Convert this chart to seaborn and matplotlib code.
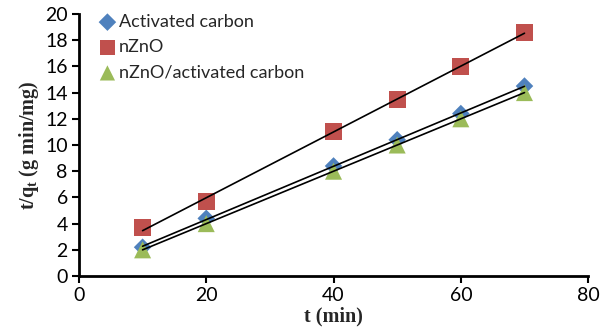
import numpy as np
import pandas as pd
import matplotlib
matplotlib.use("Agg")
import matplotlib.pyplot as plt
import seaborn as sns

# Pseudo-second-order kinetic data: t/q_t versus contact time
time_min = [10, 20, 40, 50, 60, 70]
series_names = ["Activated carbon", "nZnO", "nZnO/activated carbon"]
t_qt_activated_carbon = [2.2, 4.4, 8.4, 10.4, 12.4, 14.5]
t_qt_nzno = [3.7, 5.7, 11.0, 13.5, 16.0, 18.6]
t_qt_nzno_ac = [2.0, 4.0, 8.0, 10.0, 12.0, 14.0]
x_ticks = [0, 20, 40, 60, 80]
y_ticks = [0, 2, 4, 6, 8, 10, 12, 14, 16, 18, 20]

df = pd.DataFrame({
    "t": time_min * 3,
    "tq": t_qt_activated_carbon + t_qt_nzno + t_qt_nzno_ac,
    "series": [series_names[0]] * 6 + [series_names[1]] * 6 + [series_names[2]] * 6,
})

sns.set_theme(style="white")
plt.rcParams["font.family"] = ["Lato", "DejaVu Sans"]
plt.rcParams["mathtext.fontset"] = "custom"
plt.rcParams["mathtext.rm"] = "Liberation Serif"
plt.rcParams["mathtext.bf"] = "Liberation Serif:bold"

palette = {series_names[0]: "#4F81BD", series_names[1]: "#C0504D", series_names[2]: "#9BBB59"}
markers = {series_names[0]: "D", series_names[1]: "s", series_names[2]: "^"}
sizes = {series_names[0]: 80, series_names[1]: 150, series_names[2]: 150}

fig = plt.figure(figsize=(6.12, 3.33), dpi=100)
ax = fig.add_axes([0.129, 0.171, 0.832, 0.787])

for name in series_names:
    sub = df[df["series"] == name]
    ax.scatter(sub["t"], sub["tq"], marker=markers[name], s=sizes[name],
               color=palette[name], edgecolor="none", label=name, zorder=2)
    sns.regplot(data=sub, x="t", y="tq", ax=ax, scatter=False, ci=None,
                truncate=True, line_kws={"color": "black", "lw": 1.2, "zorder": 3})

ax.set_xlim(0, 80)
ax.set_ylim(0, 20)
ax.set_xticks(x_ticks)
ax.set_yticks(y_ticks)
ax.tick_params(axis="both", which="major", direction="out", length=5, width=1.5,
               labelsize=14, colors="black", bottom=True, left=True, pad=3)
for s in ["top", "right"]:
    ax.spines[s].set_visible(False)
for s in ["left", "bottom"]:
    ax.spines[s].set_linewidth(2)
    ax.spines[s].set_color("black")

ax.set_xlabel("t (min)", fontsize=14.5, fontweight="bold", family="Liberation Serif", labelpad=2)
ax.set_ylabel(r"t/q$_\mathbf{t}$ (g min/mg)", fontsize=14.5, fontweight="bold",
              family="Liberation Serif", labelpad=3)

leg = ax.legend(loc="upper left", bbox_to_anchor=(0.024, 1.028), frameon=False, fontsize=13,
                handlelength=1.0, handletextpad=0.15, labelspacing=0.52, borderaxespad=0.0)
for h, sz in zip(leg.legend_handles, [80, 110, 120]):
    h.set_sizes([sz])

fig.savefig("out.png", dpi=100)
